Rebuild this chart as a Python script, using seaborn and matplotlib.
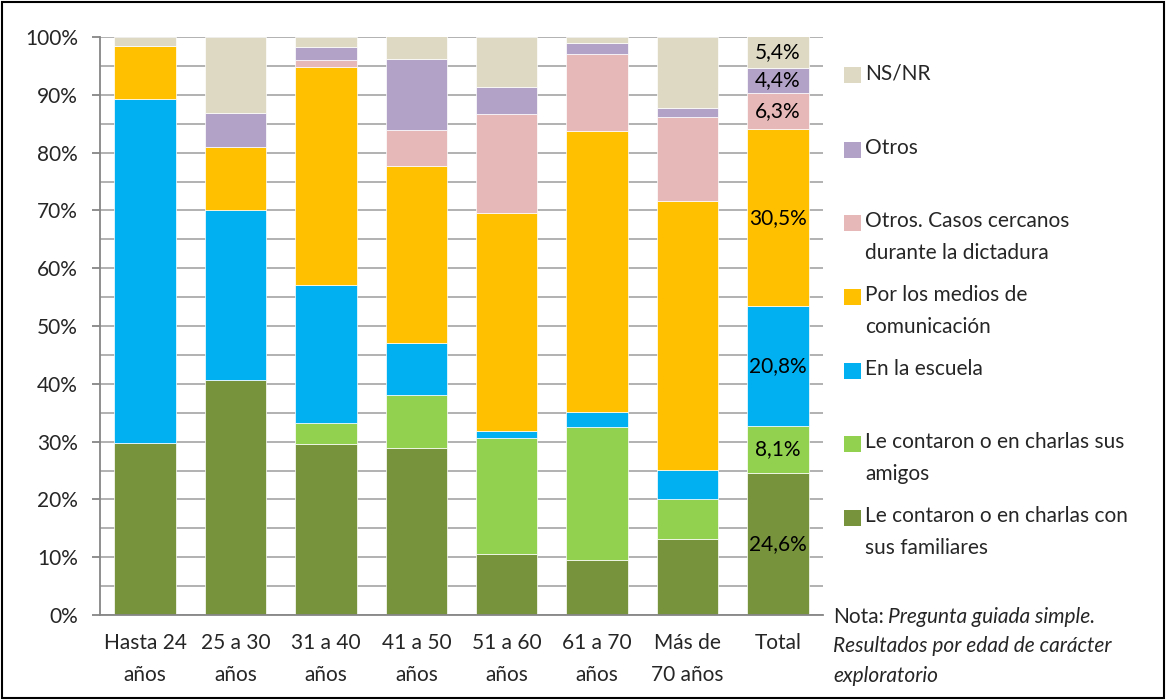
import matplotlib
matplotlib.use("Agg")
import matplotlib.pyplot as plt
import matplotlib.patches as mpatches
from matplotlib.ticker import MultipleLocator, FixedLocator
import numpy as np
import pandas as pd
import seaborn as sns

categories = ["Hasta 24\naños", "25 a 30\naños", "31 a 40\naños", "41 a 50\naños",
              "51 a 60\naños", "61 a 70\naños", "Más de\n70 años", "Total"]

series_names = ["Le contaron o en charlas con\nsus familiares",
                "Le contaron o en charlas sus\namigos",
                "En la escuela",
                "Por los medios de\ncomunicación",
                "Otros. Casos cercanos\ndurante la dictadura",
                "Otros",
                "NS/NR"]

familiares = [29.7, 40.7, 29.6, 28.9, 10.5, 9.6, 13.1, 24.6]
amigos     = [0.0, 0.0, 3.6, 9.2, 20.1, 22.9, 6.9, 8.1]
escuela    = [59.5, 29.4, 23.9, 9.0, 1.2, 2.7, 5.1, 20.8]
medios     = [9.3, 10.8, 37.7, 30.6, 37.7, 48.5, 46.6, 30.5]
dictadura  = [0.0, 0.0, 1.3, 6.2, 17.1, 13.4, 14.4, 6.3]
otros      = [0.0, 6.0, 2.2, 12.3, 4.7, 1.8, 1.7, 4.4]
nsnr       = [1.5, 13.1, 1.7, 4.2, 8.7, 1.1, 12.2, 5.4]

total_labels = ["24,6%", "8,1%", "20,8%", "30,5%", "6,3%", "4,4%", "5,4%"]

colors = ["#77933C", "#92D050", "#00B0F0", "#FFC000", "#E6B9B8", "#B3A2C7", "#DDD9C3"]

series_values = [familiares, amigos, escuela, medios, dictadura, otros, nsnr]

sns.set_theme(style="white")
plt.rcParams["font.family"] = ["Lato", "DejaVu Sans"]

FS = 15
W, H = 1166, 700
fig = plt.figure(figsize=(W / 100, H / 100), dpi=100)
ax = fig.add_axes([100 / W, 1 - 615 / H, (823 - 100) / W, (615 - 37) / H])

ax.set_axisbelow(True)
ax.yaxis.set_minor_locator(MultipleLocator(5))
ax.yaxis.set_major_locator(MultipleLocator(10))
ax.grid(True, axis="y", which="both", color="#ABABAB", linewidth=1.3)

bottom = np.zeros(len(categories))
for name, vals, col in zip(series_names, series_values, colors):
    df = pd.DataFrame({"cat": categories, "val": vals})
    sns.barplot(data=df, x="cat", y="val", color=col, width=0.68, bottom=bottom,
                ax=ax, saturation=1, edgecolor="white", linewidth=0.5, errorbar=None)
    bottom = bottom + np.array(vals)

cum = 0.0
idx_total = len(categories) - 1
for vals, lab in zip(series_values, total_labels):
    v = vals[idx_total]
    ax.text(idx_total, cum + v / 2, lab, ha="center", va="center", fontsize=FS, color="black")
    cum += v

ax.set_xlim(-0.5, len(categories) - 0.5)
ax.set_ylim(0, 100)
ax.set_xlabel("")
ax.set_ylabel("")
ax.set_yticks(np.arange(0, 101, 10))
ax.set_yticklabels([f"{t}%" for t in range(0, 101, 10)], fontsize=FS)
ax.set_xticks(range(len(categories)))
ax.set_xticklabels(categories, fontsize=FS, linespacing=1.75)
ax.xaxis.set_minor_locator(FixedLocator(np.arange(-0.5, len(categories), 1.0)))
ax.tick_params(axis="x", which="major", length=0, pad=13)
ax.tick_params(axis="x", which="minor", length=6, width=1.3, color="#868686", direction="out")
ax.tick_params(axis="y", which="major", length=6, width=1.3, color="#868686", direction="out", pad=10, left=True)
ax.tick_params(axis="y", which="minor", length=0)
for s in ["top", "right"]:
    ax.spines[s].set_visible(False)
for s in ["left", "bottom"]:
    ax.spines[s].set_color("#868686")
    ax.spines[s].set_linewidth(1.3)

legend_y = [75, 150, 223, 297, 371, 444, 518]
legend_order = list(range(len(series_names)))[::-1]
for yy, i in zip(legend_y, legend_order):
    fig.patches.append(mpatches.Rectangle((844 / W, 1 - (yy + 8) / H), 17 / W, 16 / H,
                                          transform=fig.transFigure, facecolor=colors[i],
                                          edgecolor="none"))
    fig.text(865 / W, 1 - (yy - 12) / H, series_names[i], ha="left", va="top",
             fontsize=FS, linespacing=1.72)

fig.text(833 / W, 1 - 617 / H, "Nota:", ha="left", va="center", fontsize=FS)
fig.text(888 / W, 1 - 617 / H, "Pregunta guiada simple.", ha="left", va="center",
         fontsize=FS, style="italic")
fig.text(833 / W, 1 - 646 / H, "Resultados por edad de carácter", ha="left", va="center",
         fontsize=FS, style="italic")
fig.text(833 / W, 1 - 676 / H, "exploratorio", ha="left", va="center",
         fontsize=FS, style="italic")

fig.patches.append(mpatches.Rectangle((2 / W, 2 / H), (W - 4) / W, (H - 4) / H,
                                      transform=fig.transFigure, fill=False,
                                      edgecolor="black", linewidth=1.5))

fig.savefig("out.png", dpi=100)
